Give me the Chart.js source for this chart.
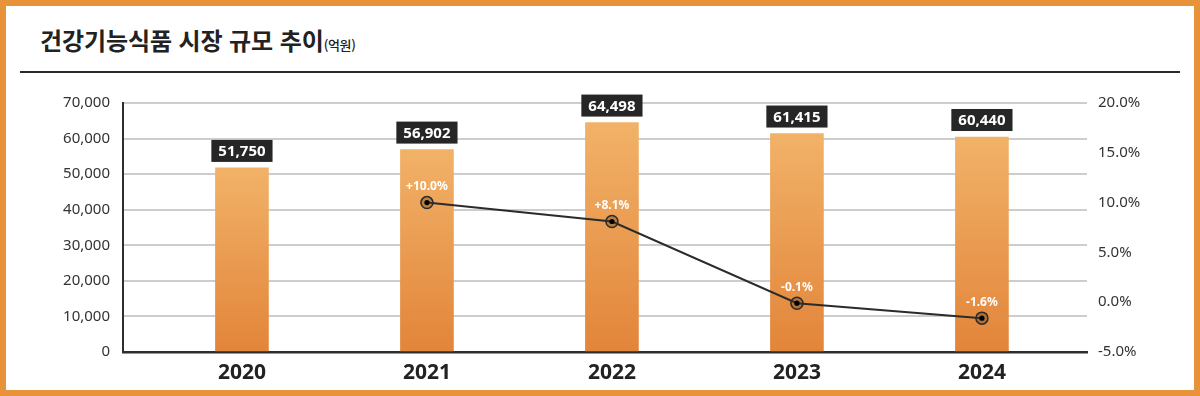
<!DOCTYPE html>
<html lang="ko">
<head>
<meta charset="utf-8">
<script src="https://cdn.jsdelivr.net/npm/chart.js@4.4.1/dist/chart.umd.min.js"></script>
<style>
  html, body { margin: 0; padding: 0; background: #fff; }
  #frame { position: absolute; left: 0; top: 0; width: 1200px; height: 396px; box-sizing: border-box; border: 6px solid #E8923A; background: #fff; }
  #title { position: absolute; left: 40px; top: 25px; font-family: "Noto Sans CJK KR", sans-serif; font-weight: 700; font-size: 24px; color: #222; letter-spacing: -0.1px; line-height: 30px; white-space: nowrap; }
  #title small { font-size: 13px; font-weight: 500; letter-spacing: -0.3px; }
  #rule { position: absolute; left: 20px; top: 71px; width: 1160px; height: 2px; background: #2a2a2a; }
  #wrap { position: absolute; left: 0; top: 0; width: 1200px; height: 396px; }
</style>
</head>
<body>
<div id="frame"></div>
<div id="title">건강기능식품 시장 규모 추이<small>(억원)</small></div>
<div id="rule"></div>
<div id="wrap"><canvas id="c" width="1200" height="396"></canvas></div>
<script>
const years = ['2020', '2021', '2022', '2023', '2024'];
const marketSize = [51750, 56902, 64498, 61415, 60440];
const growthRate = [null, 10.0, 8.1, -0.1, -1.6];
const leftTicks = [0, 10000, 20000, 30000, 40000, 50000, 60000, 70000];
const rightTicks = [-5, 0, 5, 10, 15, 20];

const NUM_FONT = '"Noto Sans", "DejaVu Sans", sans-serif';

const barData = marketSize.map((v, i) => ({ x: i, y: v }));
const lineData = growthRate.map((v, i) => ({ x: i, y: v }));

const labelPlugin = {
  id: 'labels',
  afterDatasetsDraw(chart) {
    const ctx = chart.ctx;
    const barMeta = chart.getDatasetMeta(1);
    ctx.save();
    ctx.font = 'bold 15px ' + NUM_FONT;
    ctx.textAlign = 'center';
    ctx.textBaseline = 'middle';
    barMeta.data.forEach((el, i) => {
      const txt = marketSize[i].toLocaleString('en-US');
      const w = ctx.measureText(txt).width + 14;
      const h = 22;
      const bottom = el.y - 6;
      ctx.fillStyle = '#262626';
      ctx.fillRect(el.x - w / 2, bottom - h, w, h);
      ctx.fillStyle = '#ffffff';
      ctx.fillText(txt, el.x, bottom - h / 2 + 1);
    });
    const lineMeta = chart.getDatasetMeta(0);
    lineMeta.data.forEach((pt, i) => {
      const v = growthRate[i];
      if (v === null || pt.skip) return;
      ctx.beginPath();
      ctx.arc(pt.x, pt.y, 2.6, 0, Math.PI * 2);
      ctx.fillStyle = '#000';
      ctx.fill();
      const txt = (v > 0 ? '+' : '') + v.toFixed(1) + '%';
      ctx.font = 'bold 12px ' + NUM_FONT;
      ctx.fillStyle = '#ffffff';
      ctx.fillText(txt, pt.x, pt.y - 16);
    });
    ctx.restore();
  }
};

new Chart(document.getElementById('c'), {
  data: {
    datasets: [
      {
        type: 'line',
        data: lineData,
        yAxisID: 'y2',
        borderColor: '#2b2b2b',
        borderWidth: 2,
        pointRadius: 6,
        pointBorderWidth: 1.5,
        pointBorderColor: '#2b2b2b',
        pointBackgroundColor: 'rgba(90,60,30,0.35)',
        spanGaps: false,
        order: 0
      },
      {
        type: 'bar',
        data: barData,
        yAxisID: 'y',
        barThickness: 53,
        order: 1,
        backgroundColor(context) {
          const chart = context.chart;
          const area = chart.chartArea;
          if (!area || !context.raw) return '#E9964A';
          const yS = chart.scales.y;
          const top = yS.getPixelForValue(context.raw.y);
          const g = chart.ctx.createLinearGradient(0, top, 0, area.bottom);
          g.addColorStop(0, '#F1B268');
          g.addColorStop(1, '#E2853A');
          return g;
        }
      }
    ]
  },
  options: {
    responsive: false,
    animation: false,
    events: [],
    layout: { padding: { left: 0, right: 0, top: 103, bottom: 0 } },
    plugins: { legend: { display: false }, tooltip: { enabled: false } },
    scales: {
      x: {
        type: 'linear',
        offset: false,
        min: -0.643,
        max: 4.568,
        afterBuildTicks(scale) { scale.ticks = years.map((_, i) => ({ value: i })); },
        afterFit(scale) { scale.height = 44; },
        grid: { display: false, drawTicks: false, offset: false },
        border: { display: true, color: '#2e2e2e', width: 2.5 },
        ticks: {
          autoSkip: false,
          maxRotation: 0,
          padding: 8,
          color: '#222',
          font: { family: NUM_FONT, size: 21, weight: 'bold' },
          callback(v) { return years[v]; }
        }
      },
      y: {
        position: 'left',
        min: 0,
        max: 70000,
        afterBuildTicks(scale) { scale.ticks = leftTicks.map(v => ({ value: v })); },
        afterFit(scale) { scale.width = 123; },
        grid: { color: '#cdcdcd', lineWidth: 2, drawTicks: false },
        border: { display: true, color: '#2e2e2e', width: 2 },
        ticks: {
          padding: 13,
          color: '#333',
          font: { family: NUM_FONT, size: 15 },
          callback(v) { return v.toLocaleString('en-US'); }
        }
      },
      y2: {
        position: 'right',
        min: -5,
        max: 20,
        afterBuildTicks(scale) { scale.ticks = rightTicks.map(v => ({ value: v })); },
        afterFit(scale) { scale.width = 113; },
        grid: { display: false, drawTicks: false },
        border: { display: false },
        ticks: {
          padding: 11,
          color: '#333',
          font: { family: NUM_FONT, size: 15 },
          callback(v) { return v.toFixed(1) + '%'; }
        }
      }
    }
  },
  plugins: [labelPlugin]
});
</script>
</body>
</html>
